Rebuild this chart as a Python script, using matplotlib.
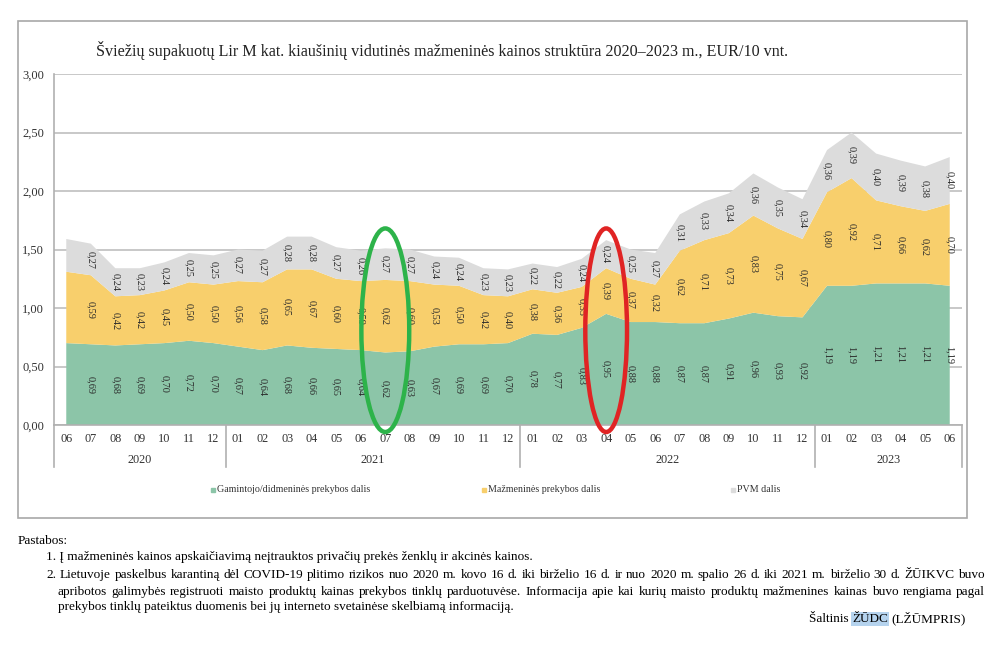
import numpy as np
import matplotlib
matplotlib.use('Agg')
import matplotlib.pyplot as plt
from matplotlib.patches import Ellipse, Rectangle
from matplotlib.lines import Line2D

# ── data ──────────────────────────────────────────────────────────────────────
MONTHS = ['06', '07', '08', '09', '10', '11', '12',
          '01', '02', '03', '04', '05', '06', '07', '08', '09', '10', '11', '12',
          '01', '02', '03', '04', '05', '06', '07', '08', '09', '10', '11', '12',
          '01', '02', '03', '04', '05', '06']
YEARS = ['2020', '2021', '2022', '2023']
YEAR_LEN = [7, 12, 12, 6]

producer = [0.70, 0.69, 0.68, 0.69, 0.70, 0.72, 0.70,
            0.67, 0.64, 0.68, 0.66, 0.65, 0.64, 0.62, 0.63, 0.67, 0.69, 0.69, 0.70,
            0.78, 0.77, 0.83, 0.95, 0.88, 0.88, 0.87, 0.87, 0.91, 0.96, 0.93, 0.92,
            1.19, 1.19, 1.21, 1.21, 1.21, 1.19]
retail = [0.61, 0.59, 0.42, 0.42, 0.45, 0.50, 0.50,
          0.56, 0.58, 0.65, 0.67, 0.60, 0.59, 0.62, 0.60, 0.53, 0.50, 0.42, 0.40,
          0.38, 0.36, 0.35, 0.39, 0.37, 0.32, 0.62, 0.71, 0.73, 0.83, 0.75, 0.67,
          0.80, 0.92, 0.71, 0.66, 0.62, 0.70]
vat = [0.28, 0.27, 0.24, 0.23, 0.24, 0.25, 0.25,
       0.27, 0.27, 0.28, 0.28, 0.27, 0.26, 0.27, 0.27, 0.24, 0.24, 0.23, 0.23,
       0.22, 0.22, 0.24, 0.24, 0.25, 0.27, 0.31, 0.33, 0.34, 0.36, 0.35, 0.34,
       0.36, 0.39, 0.40, 0.39, 0.38, 0.40]
# first month (2020-06) carries no data labels in the source chart
labelled = [False] + [True] * 36

SERIES = ['Gamintojo/didmeninės prekybos dalis', 'Mažmeninės prekybos dalis', 'PVM dalis']
COLORS = ['#8cc5a8', '#f8cf6c', '#dcdcdc']

TITLE = 'Šviežių supakuotų Lir M kat. kiaušinių vidutinės mažmeninės kainos struktūra 2020–2023 m., EUR/10 vnt.'

plt.rcParams['font.family'] = ['Liberation Serif', 'DejaVu Serif']

# ── figure ────────────────────────────────────────────────────────────────────
W, H = 1000, 667
fig = plt.figure(figsize=(10, 6.67), dpi=100)

def fx(px): return px / W
def fy(py): return 1 - py / H

ax = fig.add_axes([fx(54), fy(425), fx(962) - fx(54), fy(74) - fy(425)])

x = np.arange(len(MONTHS))
p = np.array(producer); r = np.array(retail); v = np.array(vat)
ax.stackplot(x, p, r, v, colors=COLORS, lw=0, zorder=2)

ax.set_xlim(-0.5, len(MONTHS) - 0.5)
ax.set_ylim(0, 3.0)
yt = np.arange(0, 3.01, 0.5)
ax.set_yticks(yt)
ax.set_yticklabels([f'{t:.2f}'.replace('.', ',') for t in yt], fontsize=9, color='#333333')
ax.tick_params(axis='y', length=0, pad=7)
ax.grid(axis='y', color='#c4c4c4', lw=1.3, zorder=1)
ax.set_axisbelow(True)
for s in ['top', 'right']:
    ax.spines[s].set_visible(False)
ax.spines['left'].set_color('#b0b0b0'); ax.spines['left'].set_linewidth(1.2)
ax.spines['bottom'].set_color('#b0b0b0'); ax.spines['bottom'].set_linewidth(1.2)

# two-level category axis
ax.set_xticks(x)
ax.set_xticklabels(MONTHS, fontsize=8.8, color='#333333')
ax.tick_params(axis='x', length=0, pad=6)
bounds = np.concatenate([[0], np.cumsum(YEAR_LEN)]) - 0.5
for b in bounds:
    ax.plot([b, b], [0, -0.36], color='#b0b0b0', lw=1.2, clip_on=False)
for i, yr in enumerate(YEARS):
    ax.text((bounds[i] + bounds[i + 1]) / 2, -0.30, yr, ha='center', va='center',
            fontsize=8.8, color='#333333')

# data labels (rotated, centred in each band)
def fmt(val): return f'{val:.2f}'.replace('.', ',')
for i in x:
    if not labelled[i]:
        continue
    for lo, h in [(0, p[i]), (p[i], r[i]), (p[i] + r[i], v[i])]:
        ax.text(i, lo + h / 2, fmt(h), rotation=-90, ha='center', va='center',
                fontsize=7.4, color='#2a2a2a', zorder=4)

# hand-drawn highlight ellipses
ax.add_patch(Ellipse((13, 0.81), 1.95, 1.74, fill=False, ec='#2db34a', lw=3.2,
                     clip_on=False, zorder=5))
ax.add_patch(Ellipse((22, 0.81), 1.7, 1.74, fill=False, ec='#e02424', lw=3.2,
                     clip_on=False, zorder=5))

# title
fig.text(fx(442), fy(50), TITLE, ha='center', va='center', fontsize=11.6, color='#222222')

# legend (manual, centred under the chart)
for mx, label, c in [(213, SERIES[0], COLORS[0]), (484, SERIES[1], COLORS[1]),
                     (733, SERIES[2], COLORS[2])]:
    fig.add_artist(Line2D([fx(mx)], [fy(490)], marker='s', ms=3.5, color=c,
                          ls='none', transform=fig.transFigure))
    fig.text(fx(mx + 4), fy(490), label, ha='left', va='center', fontsize=7.2,
             color='#333333')

# chart border
fig.add_artist(Rectangle((fx(18), fy(518)), fx(967) - fx(18), fy(21) - fy(518),
                         fill=False, ec='#a8a8a8', lw=1.2, transform=fig.transFigure))

# notes
NOTE_FS = 9.5
fig.text(fx(18), fy(541), 'Pastabos:', ha='left', va='center', fontsize=NOTE_FS)
fig.text(fx(46), fy(557), '1. Į mažmeninės kainos apskaičiavimą neįtrauktos privačių prekės ženklų ir akcinės kainos.',
         ha='left', va='center', fontsize=NOTE_FS)
NOTE2 = [
    (46, 574, '2. Lietuvoje paskelbus karantiną dėl COVID-19 plitimo rizikos nuo 2020 m. kovo 16 d. iki birželio 16 d. ir nuo 2020 m. spalio 26 d. iki 2021 m. birželio 30 d. ŽŪIKVC buvo', True),
    (58, 591, 'apribotos galimybės registruoti maisto produktų kainas prekybos tinklų parduotuvėse. Informacija apie kai kurių maisto produktų mažmenines kainas buvo rengiama pagal', True),
    (58, 606, 'prekybos tinklų pateiktus duomenis bei jų interneto svetainėse skelbiamą informaciją.', False),
]
fig.canvas.draw()
renderer = fig.canvas.get_renderer()
RIGHT = 985
for x0, y0, line, justify in NOTE2:
    if not justify:
        fig.text(fx(x0), fy(y0 + 4), line, ha='left', va='baseline', fontsize=NOTE_FS)
        continue
    words = line.split(' ')
    arts = [fig.text(0, fy(y0 + 4), w, ha='left', va='baseline', fontsize=NOTE_FS) for w in words]
    widths = [a.get_window_extent(renderer).width for a in arts]
    gap = (RIGHT - x0 - sum(widths)) / (len(words) - 1)
    pos = x0
    for a, w in zip(arts, widths):
        a.set_x(fx(pos))
        pos += w + gap

# source line, with the highlighted "ŽŪDC" as in the original
SRC_Y = fy(622)
src1 = fig.text(fx(809), SRC_Y, 'Šaltinis ', ha='left', va='baseline', fontsize=NOTE_FS)
fig.canvas.draw()
w1 = src1.get_window_extent(renderer).width
src2 = fig.text(fx(809 + w1), SRC_Y, 'ŽŪDC', ha='left', va='baseline', fontsize=NOTE_FS,
                bbox=dict(boxstyle='square,pad=0.05', fc='#b5d3ee', ec='none'))
fig.canvas.draw()
w2 = src2.get_window_extent(renderer).width
fig.text(fx(809 + w1 + w2 + 3), SRC_Y, '(LŽŪMPRIS)', ha='left', va='baseline', fontsize=NOTE_FS)

plt.savefig('out.png', dpi=100)
plt.close()
